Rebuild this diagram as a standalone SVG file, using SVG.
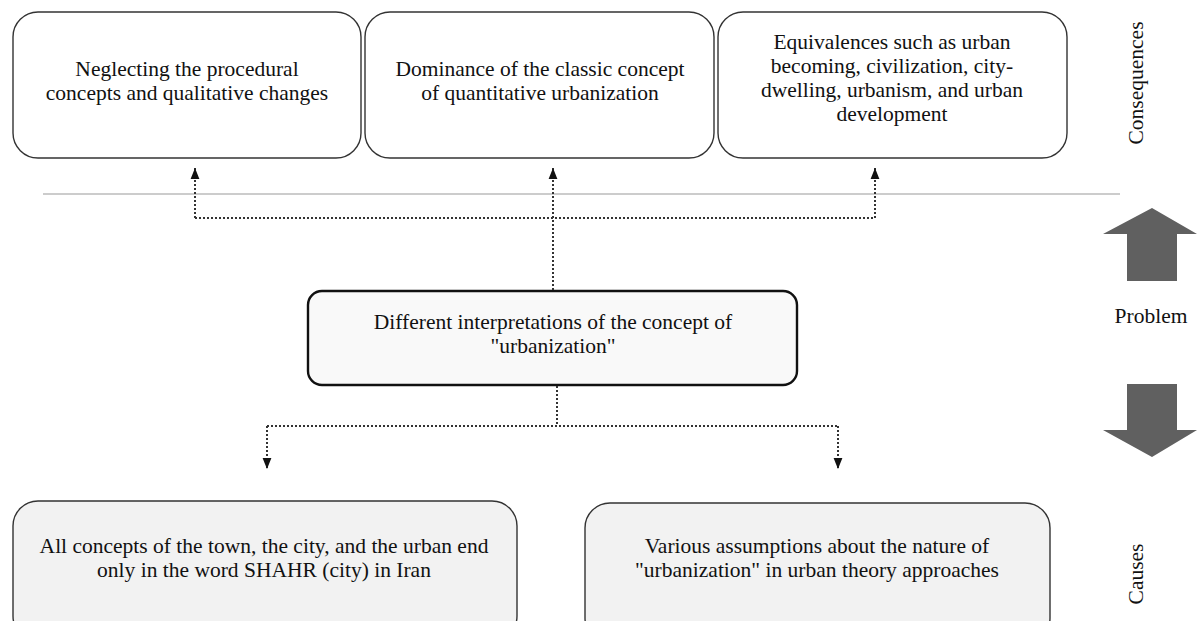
<svg xmlns="http://www.w3.org/2000/svg" width="1197" height="621" viewBox="0 0 1197 621">
<style>
text{font-family:"Liberation Serif","Times New Roman",serif;font-size:21.5px;fill:#111;text-anchor:middle}
.top{fill:#fff;stroke:#333;stroke-width:1.4}
.mid{fill:#f9f9f9;stroke:#111;stroke-width:2.4}
.bot{fill:#f2f2f2;stroke:#333;stroke-width:1.4}
.dot{fill:none;stroke:#333;stroke-width:2;stroke-dasharray:2 2}
.big{fill:#606060}
</style>
<defs>
<marker id="ah" viewBox="0 0 10 10" refX="10" refY="5" markerWidth="11" markerHeight="11" markerUnits="userSpaceOnUse" orient="auto">
<path d="M0,1 L10,5 L0,9 Z" fill="#111"/>
</marker>
</defs>
<rect width="1197" height="621" fill="#fff"/>
<line x1="43" y1="194" x2="1120" y2="194" stroke="#999" stroke-width="1.2"/>
<g id="n1"><rect class="top" x="13" y="12" width="348" height="146" rx="25"/>
<text x="187" y="76">Neglecting the procedural</text><text x="187" y="100">concepts and qualitative changes</text></g>
<g id="n2"><rect class="top" x="365" y="12" width="349" height="146" rx="25"/>
<text x="540" y="76">Dominance of the classic concept</text><text x="540" y="100">of quantitative urbanization</text></g>
<g id="n3"><rect class="top" x="718" y="12" width="349" height="146" rx="25"/>
<text x="892" y="49">Equivalences such as urban</text><text x="892" y="73">becoming, civilization, city-</text><text x="892" y="97">dwelling, urbanism, and urban</text><text x="892" y="121">development</text></g>
<g id="n4"><rect class="mid" x="308" y="291" width="489" height="94" rx="14"/>
<text x="553" y="329">Different interpretations of the concept of</text><text x="553" y="353">"urbanization"</text></g>
<g id="n5"><rect class="bot" x="13" y="501" width="504" height="140" rx="25"/>
<text x="264" y="553">All concepts of the town, the city, and the urban end</text><text x="264" y="577">only in the word SHAHR (city) in Iran</text></g>
<g id="n6"><rect class="bot" x="585" y="503" width="465" height="140" rx="25"/>
<text x="817" y="553">Various assumptions about the nature of</text><text x="817" y="577">"urbanization" in urban theory approaches</text></g>
<g id="connectors">
<path class="dot" d="M553,290 V218"/>
<path class="dot" d="M195,218 H875"/>
<path class="dot" d="M195,218 V168" marker-end="url(#ah)"/>
<path class="dot" d="M553,218 V168" marker-end="url(#ah)"/>
<path class="dot" d="M875,218 V168" marker-end="url(#ah)"/>
<path class="dot" d="M557,386 V426"/>
<path class="dot" d="M267,426 H838"/>
<path class="dot" d="M267,426 V469" marker-end="url(#ah)"/>
<path class="dot" d="M838,426 V469" marker-end="url(#ah)"/>
</g>
<g id="side">
<path class="big" d="M1152,208 L1197,234 H1177 V281 H1127 V234 H1103 Z"/>
<path class="big" d="M1152,457 L1197,430 H1177 V384 H1127 V430 H1103 Z"/>
<text x="1151" y="323">Problem</text>
<text transform="translate(1143,83) rotate(-90)">Consequences</text>
<text transform="translate(1143,574) rotate(-90)">Causes</text>
</g>
</svg>
